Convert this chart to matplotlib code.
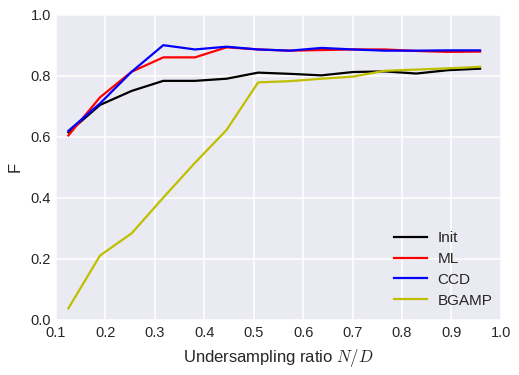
import matplotlib
matplotlib.use("Agg")
import matplotlib.pyplot as plt

# undersampling ratio N/D
ratio = [0.125, 0.189, 0.253, 0.317, 0.381, 0.445, 0.509, 0.573, 0.637, 0.701, 0.765, 0.829, 0.893, 0.958]

f_init = [0.615, 0.705, 0.751, 0.784, 0.784, 0.791, 0.811, 0.807, 0.802, 0.813, 0.815, 0.808, 0.819, 0.824]
f_ml = [0.605, 0.730, 0.814, 0.861, 0.861, 0.894, 0.887, 0.883, 0.885, 0.887, 0.887, 0.882, 0.879, 0.880]
f_ccd = [0.620, 0.710, 0.814, 0.901, 0.887, 0.896, 0.887, 0.883, 0.892, 0.887, 0.883, 0.883, 0.884, 0.884]
f_bgamp = [0.038, 0.211, 0.284, 0.401, 0.515, 0.623, 0.779, 0.783, 0.791, 0.798, 0.817, 0.821, 0.825, 0.830]

plt.rcParams['font.family'] = ['Liberation Sans', 'DejaVu Sans']
plt.rcParams['mathtext.fontset'] = 'cm'
plt.rcParams['text.color'] = '.15'
plt.rcParams['axes.labelcolor'] = '.15'
plt.rcParams['xtick.color'] = '.15'
plt.rcParams['ytick.color'] = '.15'

fig = plt.figure(figsize=(5.19, 3.75), dpi=100)
ax = fig.add_axes([0.108, 0.147, 0.857, 0.813])
ax.set_facecolor('#EAEAF2')
for s in ax.spines.values():
    s.set_visible(False)
ax.grid(True, color='white', linewidth=1.1)
ax.set_axisbelow(True)
ax.tick_params(length=0, labelsize=10.5)
ax.tick_params(axis='x', pad=4.5)
ax.tick_params(axis='y', pad=3.5)

ax.plot(ratio, f_init, color='k', lw=1.6, label='Init')
ax.plot(ratio, f_ml, color='r', lw=1.6, label='ML')
ax.plot(ratio, f_ccd, color='b', lw=1.6, label='CCD')
ax.plot(ratio, f_bgamp, color='y', lw=1.6, label='BGAMP')

ax.set_xlim(0.1, 1.0)
ax.set_ylim(0.0, 1.0)
ax.set_xticks([0.1, 0.2, 0.3, 0.4, 0.5, 0.6, 0.7, 0.8, 0.9, 1.0])
ax.set_yticks([0.0, 0.2, 0.4, 0.6, 0.8, 1.0])
ax.set_xlabel('Undersampling ratio $N/D$', fontsize=12, labelpad=5)
ax.set_ylabel('F', fontsize=12, labelpad=6)
ax.legend(loc='lower right', frameon=False, fontsize=11, handlelength=2.1,
          handletextpad=0.72, labelspacing=0.45, bbox_to_anchor=(1.012, -0.005))

fig.savefig('out.png', dpi=100)
